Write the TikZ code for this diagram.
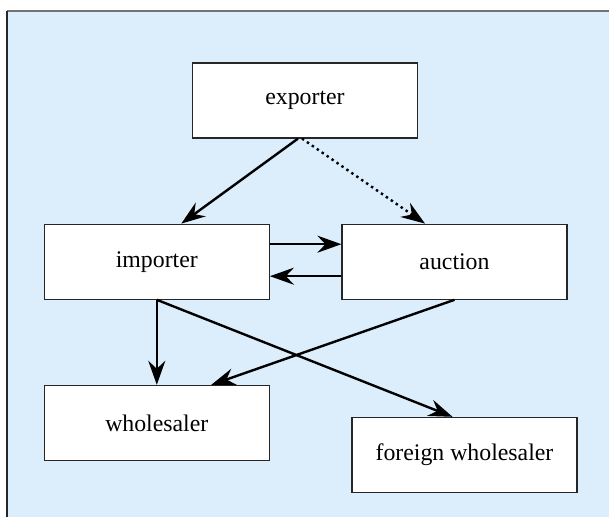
\documentclass[tikz,border=0pt]{standalone}
\usepackage{fontspec}
\setmainfont{Liberation Serif}
\usepackage{tikz}
\usetikzlibrary{positioning}
\usetikzlibrary{arrows.meta}
\definecolor{panel}{HTML}{DCEEFC}
\tikzstyle{block} = [rectangle, draw=black!85, line width=0.6pt, fill=white,
minimum width=112.5pt, minimum height=37.5pt, inner sep=0pt, font=\fontsize{11.9}{14}\selectfont]
\tikzstyle{line} = [draw, line width=1.2pt, -{Stealth[length=12pt,width=8.5pt,inset=4pt]}]
\tikzstyle{dotline} = [line, dash pattern=on 1.2pt off 1.8pt]

\begin{document}
\begin{tikzpicture}[x=0.5pt, y=-0.5pt]
\useasboundingbox (0,0) rectangle (609,517);
    % panel
\fill [panel] (7,11) rectangle (609,517);
\draw [black!55, line width=1pt] (7,11) -- (609,11);
\draw [black!85, line width=1pt] (7,11) -- (7,517);
    % nodes
\node [block] (exporter) at (305,100.5) {exporter};
\node [block, below left=42.5pt and -39pt of exporter] (importer) {importer};
\node [block, right=35.75pt of importer] (auction) {auction};
\node [block, below=42.5pt of importer] (wholesaler) {wholesaler};
\node [block, below right=58.5pt and 40.75pt of importer] (fwholesaler) {foreign wholesaler};

%edges
\path [line] ([xshift=-3.5pt]exporter.south) -- ([xshift=12.25pt]importer.north);
\path [dotline] ([xshift=-1.5pt]exporter.south) -- ([xshift=-14.75pt]auction.north);
\path [line] ([yshift=8.75pt]importer.east) -- ([yshift=8.75pt]auction.west);
\path [line] ([yshift=-7.25pt]auction.west) -- ([yshift=-7.25pt]importer.east);
\path [line] (importer.south) -- (wholesaler.north);
\path [line] (importer.south) -- ([xshift=-6pt]fwholesaler.north);
\path [line] (auction.south) -- ([xshift=27.25pt]wholesaler.north);
\end{tikzpicture}
\end{document}
